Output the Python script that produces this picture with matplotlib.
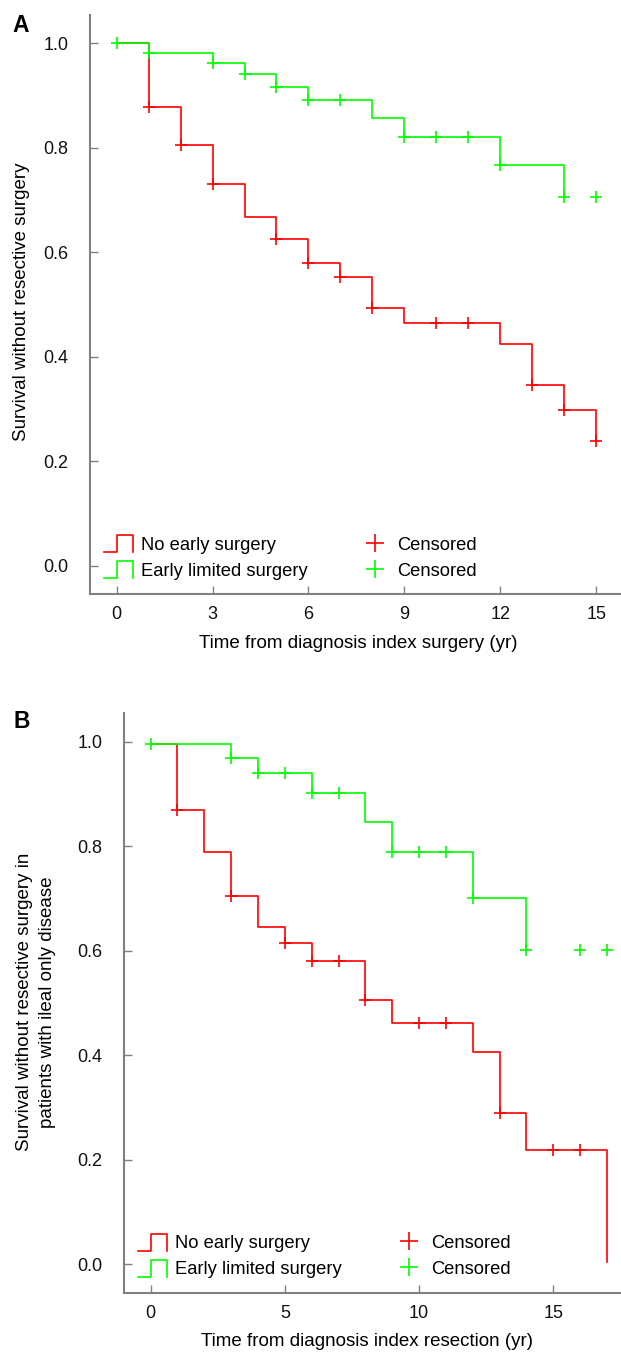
import matplotlib
matplotlib.use("Agg")
import matplotlib.pyplot as plt
from matplotlib.lines import Line2D
from matplotlib.legend_handler import HandlerBase

plt.rcParams['font.family'] = ['Liberation Sans', 'DejaVu Sans']

# Panel A: time from diagnosis to index surgery
a_red_t = [0, 1, 2, 3, 4, 5, 6, 7, 8, 9, 12, 13, 14, 15]
a_red_s = [1.0, 0.878, 0.806, 0.731, 0.668, 0.626, 0.580, 0.553, 0.494,
           0.465, 0.424, 0.346, 0.299, 0.238]
a_red_cens_t = [1, 2, 3, 5, 6, 7, 8, 10, 11, 13, 14, 15]
a_red_cens_s = [0.878, 0.806, 0.731, 0.626, 0.580, 0.553, 0.494, 0.465,
                0.465, 0.346, 0.299, 0.238]
a_green_t = [0, 1, 3, 4, 5, 6, 8, 9, 12, 14]
a_green_s = [1.0, 0.981, 0.962, 0.941, 0.917, 0.892, 0.857, 0.820, 0.767,
             0.706]
a_green_cens_t = [0, 1, 3, 4, 5, 6, 7, 9, 10, 11, 12, 14, 15]
a_green_cens_s = [1.0, 0.981, 0.962, 0.941, 0.917, 0.892, 0.892, 0.820,
                  0.820, 0.820, 0.767, 0.706, 0.706]
a_xticks = [0, 3, 6, 9, 12, 15]

# Panel B: ileal only disease
b_red_t = [0, 1, 2, 3, 4, 5, 6, 8, 9, 12, 13, 14, 17]
b_red_s = [0.995, 0.869, 0.788, 0.704, 0.646, 0.615, 0.581, 0.505, 0.462,
           0.406, 0.289, 0.219, 0.004]
b_red_cens_t = [1, 3, 5, 6, 7, 8, 10, 11, 13, 15, 16]
b_red_cens_s = [0.869, 0.704, 0.615, 0.581, 0.581, 0.505, 0.462, 0.462,
                0.289, 0.219, 0.219]
b_green_t = [0, 3, 4, 6, 8, 9, 12, 14]
b_green_s = [0.995, 0.968, 0.940, 0.901, 0.846, 0.789, 0.701, 0.602]
b_green_cens_t = [0, 3, 4, 5, 6, 7, 9, 10, 11, 12, 14, 16, 17]
b_green_cens_s = [0.995, 0.968, 0.940, 0.940, 0.901, 0.901, 0.789, 0.789,
                  0.789, 0.701, 0.602, 0.602, 0.602]
b_xticks = [0, 5, 10, 15]

yticks = [0.0, 0.2, 0.4, 0.6, 0.8, 1.0]
labels = ["No early surgery", "Early limited surgery", "Censored", "Censored"]

RED = "#ff0000"
GREEN = "#00ff00"
GREY = "#808080"
FS = 13
LFS = 13.5


class StepHandler(HandlerBase):
    # little step outline used as legend key for the curves
    def create_artists(self, legend, orig_handle, xdescent, ydescent,
                       width, height, fontsize, trans):
        x0, y0 = -xdescent, -ydescent
        xs = [x0, x0 + 0.45 * width, x0 + 0.45 * width, x0 + width,
              x0 + width]
        ys = [y0, y0, y0 + height, y0 + height, y0]
        line = Line2D(xs, ys, color=orig_handle.get_color(),
                      lw=orig_handle.get_linewidth())
        line.set_transform(trans)
        return [line]


def draw_panel(ax, red_t, red_s, rc_t, rc_s, green_t, green_s, gc_t, gc_s,
               xticks, xlim, leg_anchor):
    l1, = ax.step(red_t, red_s, where='post', color=RED, lw=1.2)
    m1, = ax.plot(rc_t, rc_s, '+', color=RED, ms=8, mew=1.2)
    l2, = ax.step(green_t, green_s, where='post', color=GREEN, lw=1.2)
    m2, = ax.plot(gc_t, gc_s, '+', color=GREEN, ms=8, mew=1.2)

    ax.set_xlim(*xlim)
    ax.set_ylim(-0.0545, 1.054)
    ax.set_xticks(xticks)
    ax.set_yticks(yticks)
    ax.set_yticklabels(["%.1f" % v for v in yticks])
    for side in ['top', 'right']:
        ax.spines[side].set_visible(False)
    for side in ['left', 'bottom']:
        ax.spines[side].set_color(GREY)
        ax.spines[side].set_linewidth(1.5)
    ax.tick_params(axis='both', direction='in', length=5.8, width=1,
                   color=GREY, labelsize=FS, labelcolor='#111111')
    ax.tick_params(axis='x', pad=8.5)
    ax.tick_params(axis='y', pad=15.5)

    hmap = {l1: StepHandler(), l2: StepHandler()}
    ax.legend([l1, l2, m1, m2], labels, ncol=2, loc='lower left',
              bbox_to_anchor=leg_anchor, frameon=False, fontsize=13.2,
              handler_map=hmap, handlelength=1.6, handleheight=1.05,
              handletextpad=0.42, columnspacing=2.85, labelspacing=0.39,
              borderpad=0, borderaxespad=0, markerscale=1.7, numpoints=1)


fig = plt.figure(figsize=(6.21, 13.6), dpi=100)
axA = fig.add_axes([90 / 621, 1 - 594.3 / 1360, 531 / 621, 579.3 / 1360])
axB = fig.add_axes([124 / 621, 1 - 1292.7 / 1360, 497 / 621, 579.4 / 1360])

draw_panel(axA, a_red_t, a_red_s, a_red_cens_t, a_red_cens_s,
           a_green_t, a_green_s, a_green_cens_t, a_green_cens_s,
           a_xticks, (-0.83, 15.77), (0.0264, 0.0247))
draw_panel(axB, b_red_t, b_red_s, b_red_cens_t, b_red_cens_s,
           b_green_t, b_green_s, b_green_cens_t, b_green_cens_s,
           b_xticks, (-0.99, 17.52), (0.0282, 0.0249))

fig.text(358 / 621, 1 - 643 / 1360, "Time from diagnosis index surgery (yr)",
         ha='center', va='center', fontsize=LFS)
fig.text(22 / 621, 1 - 302 / 1360, "Survival without resective surgery",
         ha='center', va='center', rotation=90, fontsize=LFS)
fig.text(367 / 621, 1 - 1342 / 1360,
         "Time from diagnosis index resection (yr)",
         ha='center', va='center', fontsize=LFS)
fig.text(36 / 621, 1 - 1002 / 1360,
         "Survival without resective surgery in\npatients with ileal only disease",
         ha='center', va='center', rotation=90, fontsize=LFS,
         multialignment='center', linespacing=1.45)

fig.text(21 / 621, 1 - 25 / 1360, "A", ha='center', va='center',
         fontsize=16.5, fontweight='bold')
fig.text(22 / 621, 1 - 722 / 1360, "B", ha='center', va='center',
         fontsize=16.5, fontweight='bold')

fig.savefig("out.png", dpi=100)
